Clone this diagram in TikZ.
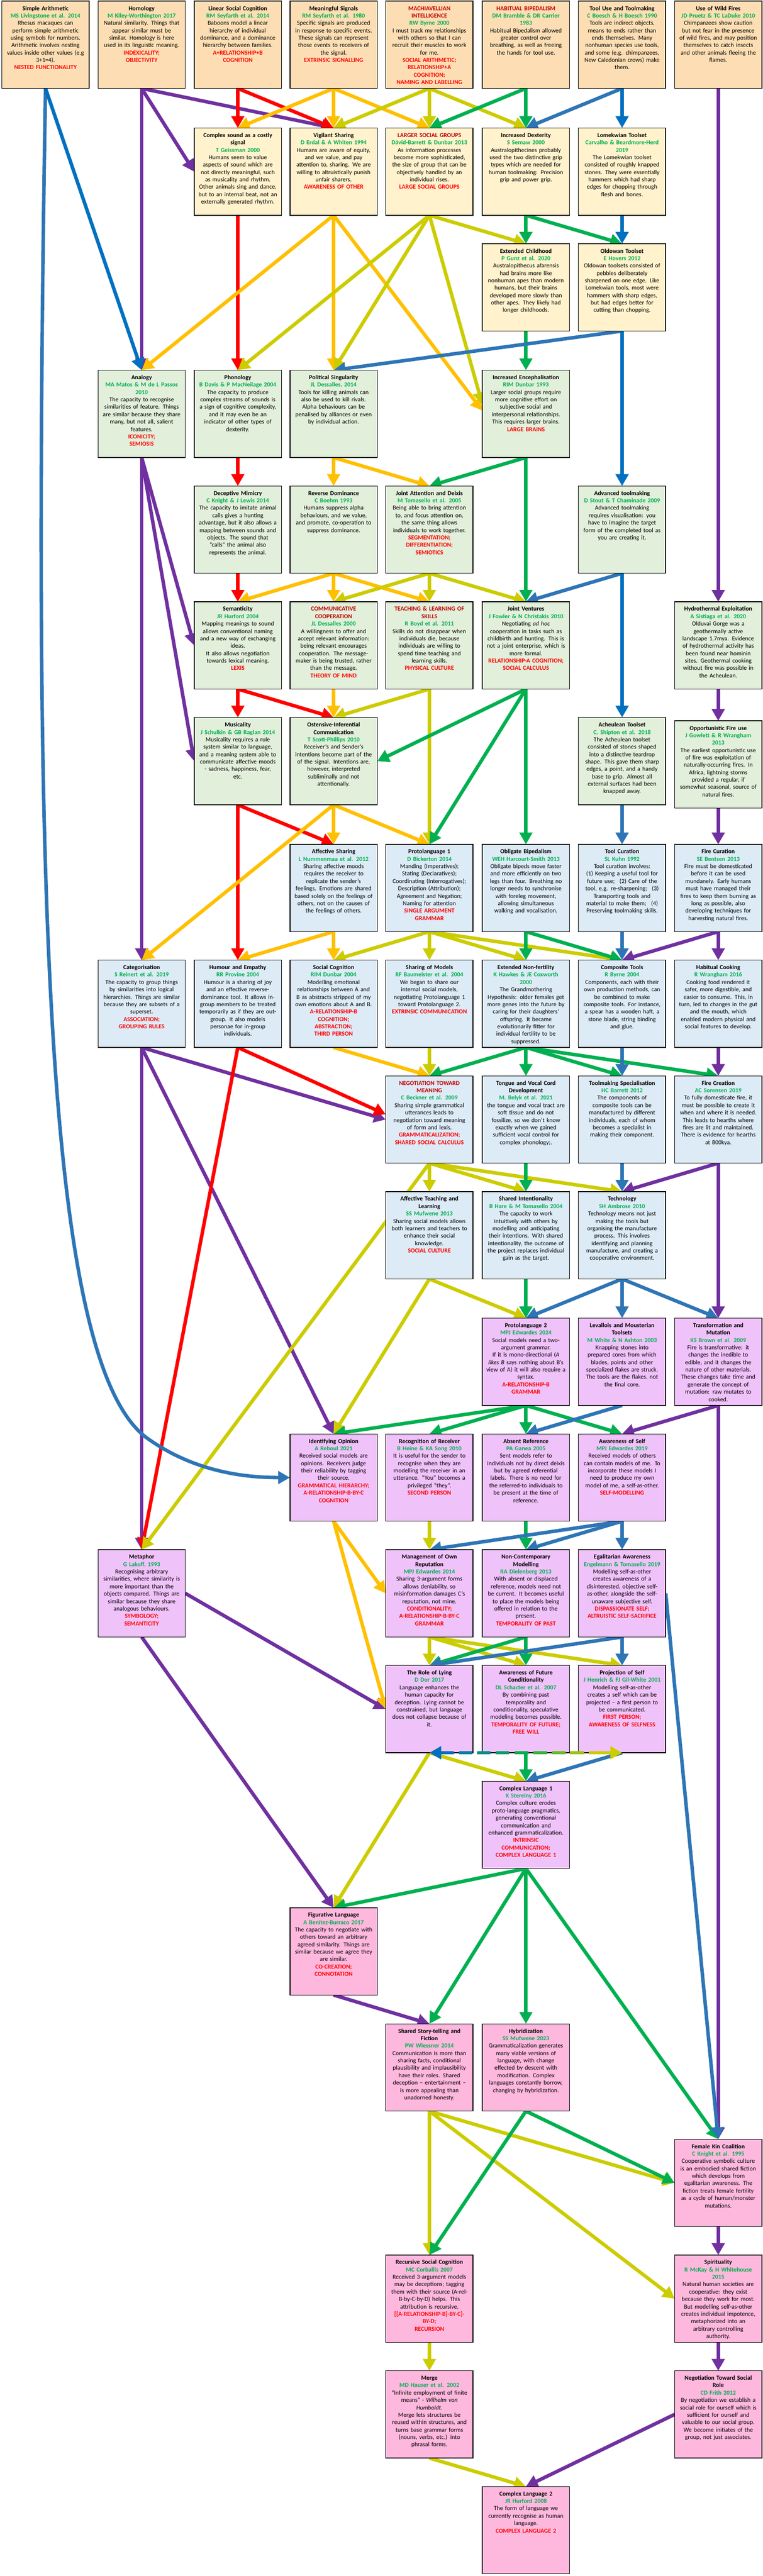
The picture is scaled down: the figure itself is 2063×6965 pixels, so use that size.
\documentclass[tikz,border=0pt]{standalone}
\usepackage{fontspec}
\setmainfont{Carlito}
\usetikzlibrary{arrows.meta,calc}
\definecolor{cPeach}{HTML}{FDDEB4}
\definecolor{cCream}{HTML}{FFF2CC}
\definecolor{cLGreen}{HTML}{E2EFDA}
\definecolor{cLBlue}{HTML}{DDEBF7}
\definecolor{cLav}{HTML}{F0C2FA}
\definecolor{cPink}{HTML}{FFB8DD}
\definecolor{cAuth}{HTML}{00B050}
\definecolor{cKey}{HTML}{FF0000}
\definecolor{cTRed}{HTML}{C00000}
\definecolor{aPur}{HTML}{7030A0}
\definecolor{aRed}{HTML}{FF0000}
\definecolor{aOra}{HTML}{FFC000}
\definecolor{aYG}{HTML}{CCCC00}
\definecolor{aGrn}{HTML}{00B050}
\definecolor{aStl}{HTML}{2E75B6}
\definecolor{aBlu}{HTML}{0070C0}
\pgfdeclarelayer{bg}
\pgfsetlayers{bg,main}
\tikzset{
 cellbox/.style={draw=black, line width=2pt, minimum width=236pt, minimum height=236pt, inner sep=0pt, outer sep=0pt},
 celltext/.style={anchor=north, inner sep=0pt, outer sep=0pt, text width=232pt, align=center, font=\fontsize{16.5pt}{20pt}\selectfont},
 conn/.style={line width=9.5pt, -{Triangle[length=32pt,width=34pt]}},
 pu/.style={conn, draw=aPur},
 rd/.style={conn, draw=aRed},
 orn/.style={conn, draw=aOra},
 ygn/.style={conn, draw=aYG},
 grn/.style={conn, draw=aGrn},
 stl/.style={conn, draw=aStl},
 blu/.style={conn, draw=aBlu},
 dashseg/.style={line width=9.5pt}
}
\newcommand{\mkbox}[5]{%
 \node[cellbox, fill=#4] (#1) at (#2+118,#3+118) {};
 \node[celltext] (#1-t) at ([yshift=-11pt]#1.north) {\strut #5};}
\newcommand{\bxT}[1]{\textbf{#1}}
\newcommand{\bxR}[1]{\textcolor{cTRed}{\textbf{#1}}}
\newcommand{\bxA}[1]{\textcolor{cAuth}{\textbf{#1}}}
\newcommand{\bxK}[1]{\textcolor{cKey}{\textbf{#1}}}
\begin{document}
\begin{tikzpicture}[x=1pt,y=-1pt]
\useasboundingbox (0,0) rectangle (2063,6965);
% ---------------- Row 1
\mkbox{sa}{5}{3}{cPeach}{\bxT{Simple Arithmetic}\\\bxA{MS Livingstone et al. 2014}\\Rhesus macaques can\\perform simple arithmetic\\using symbols for numbers.\\Arithmetic involves nesting\\values inside other values (e.g\\3+1=4).\\\bxK{NESTED FUNCTIONALITY}}
\mkbox{hom}{265}{3}{cPeach}{\bxT{Homology}\\\bxA{M Kiley-Worthington 2017}\\Natural similarity. Things that\\appear similar must be\\similar. Homology is here\\used in its linguistic meaning.\\\bxK{INDEXICALITY;\\OBJECTIVITY}}
\mkbox{lsc}{525}{3}{cPeach}{\bxT{Linear Social Cognition}\\\bxA{RM Seyfarth et al. 2014}\\Baboons model a linear\\hierarchy of individual\\dominance, and a dominance\\hierarchy between families.\\\bxK{A+RELATIONSHIP+B\\COGNITION}}
\mkbox{msig}{784}{3}{cPeach}{\bxT{Meaningful Signals}\\\bxA{RM Seyfarth et al. 1980}\\Specific signals are produced\\in response to specific events.\\These signals can represent\\those events to receivers of\\the signal.\\\bxK{EXTRINSIC SIGNALLING}}
\mkbox{mach}{1043}{3}{cPeach}{\bxR{MACHIAVELLIAN\\INTELLIGENCE}\\\bxA{RW Byrne 2000}\\I must track my relationships\\with others so that I can\\recruit their muscles to work\\for me.\\\bxK{SOCIAL ARITHMETIC;\\RELATIONSHIP+A\\COGNITION;\\NAMING AND LABELLING}}
\mkbox{habb}{1304}{3}{cPeach}{\bxR{HABITUAL BIPEDALISM}\\\bxA{DM Bramble \& DR Carrier\\1983}\\Habitual Bipedalism allowed\\greater control over\\breathing, as well as freeing\\the hands for tool use.}
\mkbox{tool}{1564}{3}{cPeach}{\bxT{Tool Use and Toolmaking}\\\bxA{C Boesch \& H Boesch 1990}\\Tools are indirect objects,\\means to ends rather than\\ends themselves. Many\\nonhuman species use tools,\\and some (e.g. chimpanzees,\\New Caledonian crows) make\\them.}
\mkbox{wild}{1824}{3}{cPeach}{\bxT{Use of Wild Fires}\\\bxA{JD Pruetz \& TC LaDuke 2010}\\Chimpanzees show caution\\but not fear in the presence\\of wild fires, and may position\\themselves to catch insects\\and other animals fleeing the\\flames.}
% ---------------- Row 2
\mkbox{csnd}{525}{346}{cCream}{\bxT{Complex sound as a costly\\signal}\\\bxA{T Geissman 2000}\\Humans seem to value\\aspects of sound which are\\not directly meaningful, such\\as musicality and rhythm.\\Other animals sing and dance,\\but to an internal beat, not an\\externally generated rhythm.}
\mkbox{vig}{784}{346}{cCream}{\bxT{Vigilant Sharing}\\\bxA{D Erdal \& A Whiten 1994}\\Humans are aware of equity,\\and we value, and pay\\attention to, sharing. We are\\willing to altruistically punish\\unfair sharers.\\\bxK{AWARENESS OF OTHER}}
\mkbox{lsg}{1043}{346}{cCream}{\bxR{LARGER SOCIAL GROUPS}\\\bxA{Dávid-Barrett \& Dunbar 2013}\\As information processes\\become more sophisticated,\\the size of group that can be\\objectively handled by an\\individual rises.\\\bxK{LARGE SOCIAL GROUPS}}
\mkbox{dex}{1304}{346}{cCream}{\bxT{Increased Dexterity}\\\bxA{S Semaw 2000}\\Australopithecines probably\\used the two distinctive grip\\types which are needed for\\human toolmaking: Precision\\grip and power grip.}
\mkbox{lom}{1564}{346}{cCream}{\bxT{Lomekwian Toolset}\\\bxA{Carvalho \& Beardmore-Herd\\2019}\\The Lomekwian toolset\\consisted of roughly knapped\\stones. They were essentially\\hammers which had sharp\\edges for chopping through\\flesh and bones.}
% ---------------- Row 3
\mkbox{ech}{1304}{659}{cCream}{\bxT{Extended Childhood}\\\bxA{P Gunz et al. 2020}\\Australopithecus afarensis\\had brains more like\\nonhuman apes than modern\\humans, but their brains\\developed more slowly than\\other apes. They likely had\\longer childhoods.}
\mkbox{old}{1564}{659}{cCream}{\bxT{Oldowan Toolset}\\\bxA{E Hovers 2012}\\Oldowan toolsets consisted of\\pebbles deliberately\\sharpened on one edge. Like\\Lomekwian tools, most were\\hammers with sharp edges,\\but had edges better for\\cutting than chopping.}
% ---------------- Row 4
\mkbox{ana}{265}{1001}{cLGreen}{\bxT{Analogy}\\\bxA{MA Matos \& M de L Passos\\2010}\\The capacity to recognise\\similarities of feature. Things\\are similar because they share\\many, but not all, salient\\features.\\\bxK{ICONICITY;\\SEMIOSIS}}
\mkbox{pho}{525}{1001}{cLGreen}{\bxT{Phonology}\\\bxA{B Davis \& P MacNeilage 2004}\\The capacity to produce\\complex streams of sounds is\\a sign of cognitive complexity,\\and it may even be an\\indicator of other types of\\dexterity.}
\mkbox{pol}{784}{1001}{cLGreen}{\bxT{Political Singularity}\\\bxA{JL Dessalles, 2014}\\Tools for killing animals can\\also be used to kill rivals.\\Alpha behaviours can be\\penalised by alliances or even\\by individual action.}
\mkbox{enc}{1304}{1001}{cLGreen}{\bxT{Increased Encephalisation}\\\bxA{RIM Dunbar 1993}\\Larger social groups require\\more cognitive effort on\\subjective social and\\interpersonal relationships.\\This requires larger brains.\\\bxK{LARGE BRAINS}}
% ---------------- Row 5
\mkbox{dec}{525}{1314}{cLGreen}{\bxT{Deceptive Mimicry}\\\bxA{C Knight \& J Lewis 2014}\\The capacity to imitate animal\\calls gives a hunting\\advantage, but it also allows a\\mapping between sounds and\\objects. The sound that\\“calls” the animal also\\represents the animal.}
\mkbox{rev}{784}{1314}{cLGreen}{\bxT{Reverse Dominance}\\\bxA{C Boehm 1993}\\Humans suppress alpha\\behaviours, and we value,\\and promote, co-operation to\\suppress dominance.}
\mkbox{jat}{1043}{1314}{cLGreen}{\bxT{Joint Attention and Deixis}\\\bxA{M Tomasello et al. 2005}\\Being able to bring attention\\to, and focus attention on,\\the same thing allows\\individuals to work together.\\\bxK{SEGMENTATION;\\DIFFERENTIATION;\\SEMIOTICS}}
\mkbox{adv}{1564}{1314}{cLGreen}{\bxT{Advanced toolmaking}\\\bxA{D Stout \& T Chaminade 2009}\\Advanced toolmaking\\requires visualisation: you\\have to imagine the target\\form of the completed tool as\\you are creating it.}
% ---------------- Row 6
\mkbox{sem}{525}{1627}{cLGreen}{\bxT{Semanticity}\\\bxA{JR Hurford 2004}\\Mapping meanings to sound\\allows conventional naming\\and a new way of exchanging\\ideas.\\It also allows negotiation\\towards lexical meaning.\\\bxK{LEXIS}}
\mkbox{comc}{784}{1627}{cLGreen}{\bxR{COMMUNICATIVE\\COOPERATION}\\\bxA{JL Dessalles 2000}\\A willingness to offer and\\accept relevant information:\\being relevant encourages\\cooperation. The message-\\maker is being trusted, rather\\than the message.\\\bxK{THEORY OF MIND}}
\mkbox{teach}{1043}{1627}{cLGreen}{\bxR{TEACHING \& LEARNING OF\\SKILLS}\\\bxA{R Boyd et al. 2011}\\Skills do not disappear when\\individuals die, because\\individuals are willing to\\spend time teaching and\\learning skills.\\\bxK{PHYSICAL CULTURE}}
\mkbox{jven}{1304}{1627}{cLGreen}{\bxT{Joint Ventures}\\\bxA{J Fowler \& N Christakis 2010}\\Negotiating \textit{ad hoc}\\cooperation in tasks such as\\childbirth and hunting. This is\\not a joint enterprise, which is\\more formal.\\\bxK{RELATIONSHIP-A COGNITION;\\SOCIAL CALCULUS}}
\mkbox{hyd}{1824}{1627}{cLGreen}{\bxT{Hydrothermal Exploitation}\\\bxA{A Sistiaga et al. 2020}\\Olduvai Gorge was a\\geothermally active\\landscape 1.7mya. Evidence\\of hydrothermal activity has\\been found near hominin\\sites. Geothermal cooking\\without fire was possible in\\the Acheulean.}
% ---------------- Row 7
\mkbox{mus}{525}{1940}{cLGreen}{\bxT{Musicality}\\\bxA{J Schulkin \& GB Raglan 2014}\\Musicality requires a rule\\system similar to language,\\and a meaning system able to\\communicate affective moods\\- sadness, happiness, fear,\\etc.}
\mkbox{ost}{784}{1940}{cLGreen}{\bxT{Ostensive-Inferential\\Communication}\\\bxA{T Scott-Phillips 2010}\\Receiver’s and Sender’s\\intentions become part of the\\of the signal. Intentions are,\\however, interpreted\\subliminally and not\\attentionally.}
\mkbox{ach}{1564}{1940}{cLGreen}{\bxT{Acheulean Toolset}\\\bxA{C. Shipton et al. 2018}\\The Acheulean toolset\\consisted of stones shaped\\into a distinctive teardrop\\shape. This gave them sharp\\edges, a point, and a handy\\base to grip. Almost all\\external surfaces had been\\knapped away.}
\mkbox{ofire}{1824}{1949}{cLGreen}{\bxT{Opportunistic Fire use}\\\bxA{J Gowlett \& R Wrangham\\2013}\\The earliest opportunistic use\\of fire was exploitation of\\naturally-occurring fires. In\\Africa, lightning storms\\provided a regular, if\\somewhat seasonal, source of\\natural fires.}
% ---------------- Row 8
\mkbox{affs}{784}{2283}{cLBlue}{\bxT{Affective Sharing}\\\bxA{L Nummenmaa et al. 2012}\\Sharing affective moods\\requires the receiver to\\replicate the sender’s\\feelings. Emotions are shared\\based solely on the feelings of\\others, not on the causes of\\the feelings of others.}
\mkbox{pl1}{1043}{2283}{cLBlue}{\bxT{Protolanguage 1}\\\bxA{D Bickerton 2014}\\Manding (Imperatives);\\Stating (Declaratives);\\Coordinating (Interrogatives);\\Description (Attribution);\\Agreement and Negation;\\Naming for attention\\\bxK{SINGLE ARGUMENT\\GRAMMAR}}
\mkbox{obip}{1304}{2283}{cLBlue}{\bxT{Obligate Bipedalism}\\\bxA{WEH Harcourt-Smith 2013}\\Obligate bipeds move faster\\and more efficiently on two\\legs than four. Breathing no\\longer needs to synchronise\\with foreleg movement,\\allowing simultaneous\\walking and vocalisation.}
\mkbox{tcur}{1564}{2283}{cLBlue}{\bxT{Tool Curation}\\\bxA{SL Kuhn 1992}\\Tool curation involves:\\(1) Keeping a useful tool for\\future use;\hspace{0.8em}(2) Care of the\\tool, e.g. re-sharpening;\hspace{0.8em}(3)\\Transporting tools and\\material to make them;\hspace{0.8em}(4)\\Preserving toolmaking skills.}
\mkbox{fcur}{1824}{2283}{cLBlue}{\bxT{Fire Curation}\\\bxA{SE Bentsen 2013}\\Fire must be domesticated\\before it can be used\\mundanely. Early humans\\must have managed their\\fires to keep them burning as\\long as possible, also\\developing techniques for\\harvesting natural fires.}
% ---------------- Row 9
\mkbox{cat}{265}{2596}{cLBlue}{\bxT{Categorisation}\\\bxA{S Reinert et al. 2019}\\The capacity to group things\\by similarities into logical\\hierarchies. Things are similar\\because they are subsets of a\\superset.\\\bxK{ASSOCIATION;\\GROUPING RULES}}
\mkbox{hum}{525}{2596}{cLBlue}{\bxT{Humour and Empathy}\\\bxA{RR Provine 2004}\\Humour is a sharing of joy\\and an effective reverse-\\dominance tool. It allows in-\\group members to be treated\\temporarily as if they are out-\\group. It also models\\personae for in-group\\individuals.}
\mkbox{soc}{784}{2596}{cLBlue}{\bxT{Social Cognition}\\\bxA{RIM Dunbar 2004}\\Modelling emotional\\relationships between A and\\B as abstracts stripped of my\\own emotions about A and B.\\\bxK{A-RELATIONSHIP-B\\COGNITION;\\ABSTRACTION;\\THIRD PERSON}}
\mkbox{shm}{1043}{2596}{cLBlue}{\bxT{Sharing of Models}\\\bxA{RF Baumeister et al. 2004}\\We began to share our\\internal social models,\\negotiating Protolanguage 1\\toward Protolanguage 2.\\\bxK{EXTRINSIC COMMUNICATION}}
\mkbox{enf}{1304}{2596}{cLBlue}{\bxT{Extended Non-fertility}\\\bxA{K Hawkes \& JE Coxworth\\2000}\\The Grandmothering\\Hypothesis: older females get\\more genes into the future by\\caring for their daughters’\\offspring. It became\\evolutionarily fitter for\\individual fertility to be\\suppressed.}
\mkbox{comp}{1564}{2596}{cLBlue}{\bxT{Composite Tools}\\\bxA{R Byrne 2004}\\Components, each with their\\own production methods, can\\be combined to make\\composite tools. For instance,\\a spear has a wooden haft, a\\stone blade, string binding\\and glue.}
\mkbox{hcook}{1824}{2596}{cLBlue}{\bxT{Habitual Cooking}\\\bxA{R Wrangham 2016}\\Cooking food rendered it\\safer, more digestible, and\\easier to consume. This, in\\turn, led to changes in the gut\\and the mouth, which\\enabled modern physical and\\social features to develop.}
% ---------------- Row 10
\mkbox{negm}{1043}{2909}{cLBlue}{\bxR{NEGOTIATION TOWARD\\MEANING}\\\bxA{C Beckner et al. 2009}\\Sharing simple grammatical\\utterances leads to\\negotiation toward meaning\\of form and lexis.\\\bxK{GRAMMATICALIZATION;\\SHARED SOCIAL CALCULUS}}
\mkbox{tong}{1304}{2909}{cLBlue}{\bxT{Tongue and Vocal Cord\\Development}\\\bxA{M. Belyk et al. 2021}\\the tongue and vocal tract are\\soft tissue and do not\\fossilize, so we don’t know\\exactly when we gained\\sufficient vocal control for\\complex phonology;.}
\mkbox{tspec}{1564}{2909}{cLBlue}{\bxT{Toolmaking Specialisation}\\\bxA{HC Barrett 2012}\\The components of\\composite tools can be\\manufactured by different\\individuals, each of whom\\becomes a specialist in\\making their component.}
\mkbox{fcre}{1824}{2909}{cLBlue}{\bxT{Fire Creation}\\\bxA{AC Sorensen 2019}\\To fully domesticate fire, it\\must be possible to create it\\when and where it is needed.\\This leads to hearths where\\fires are lit and maintained.\\There is evidence for hearths\\at 800kya.}
% ---------------- Row 11
\mkbox{atl}{1043}{3222}{cLBlue}{\bxT{Affective Teaching and\\Learning}\\\bxA{SS Mufwene 2013}\\Sharing social models allows\\both learners and teachers to\\enhance their social\\knowledge.\\\bxK{SOCIAL CULTURE}}
\mkbox{sint}{1304}{3222}{cLBlue}{\bxT{Shared Intentionality}\\\bxA{B Hare \& M Tomasello 2004}\\The capacity to work\\intuitively with others by\\modelling and anticipating\\their intentions. With shared\\intentionality, the outcome of\\the project replaces individual\\gain as the target.}
\mkbox{tech}{1564}{3222}{cLBlue}{\bxT{Technology}\\\bxA{SH Ambrose 2010}\\Technology means not just\\making the tools but\\organising the manufacture\\process. This involves\\identifying and planning\\manufacture, and creating a\\cooperative environment.}
% ---------------- Row 12
\mkbox{pl2}{1304}{3564}{cLav}{\bxT{Protolanguage 2}\\\bxA{MPJ Edwardes 2024}\\Social models need a two-\\argument grammar.\\If it is mono-directional (\textit{A}\\\textit{likes B} says nothing about B’s\\view of A) it will also require a\\syntax.\\\bxK{A-RELATIONSHIP-B\\GRAMMAR}}
\mkbox{lev}{1564}{3564}{cLav}{\bxT{Levallois and Mousterian\\Toolsets}\\\bxA{M White \& N Ashton 2003}\\Knapping stones into\\prepared cores from which\\blades, points and other\\specialized flakes are struck.\\The tools are the flakes, not\\the final core.}
\mkbox{trans}{1824}{3564}{cLav}{\bxT{Transformation and\\Mutation}\\\bxA{KS Brown et al. 2009}\\Fire is transformative: it\\changes the inedible to\\edible, and it changes the\\nature of other materials.\\These changes take time and\\generate the concept of\\mutation: raw mutates to\\cooked.}
% ---------------- Row 13
\mkbox{iop}{784}{3877}{cLav}{\bxT{Identifying Opinion}\\\bxA{A Reboul 2021}\\Received social models are\\opinions. Receivers judge\\their reliability by tagging\\their source.\\\bxK{GRAMMATICAL HIERARCHY;\\A-RELATIONSHIP-B-BY-C\\COGNITION}}
\mkbox{rrec}{1043}{3877}{cLav}{\bxT{Recognition of Receiver}\\\bxA{B Heine \& KA Song 2010}\\It is useful for the sender to\\recognise when they are\\modelling the receiver in an\\utterance. “You” becomes a\\privileged “they”.\\\bxK{SECOND PERSON}}
\mkbox{aref}{1304}{3877}{cLav}{\bxT{Absent Reference}\\\bxA{PA Ganea 2005}\\Sent models refer to\\individuals not by direct deixis\\but by agreed referential\\labels. There is no need for\\the referred-to individuals to\\be present at the time of\\reference.}
\mkbox{aself}{1564}{3877}{cLav}{\bxT{Awareness of Self}\\\bxA{MPJ Edwardes 2019}\\Received models of others\\can contain models of me. To\\incorporate these models I\\need to produce my own\\model of me, a self-as-other.\\\bxK{SELF-MODELLING}}
% ---------------- Row 14
\mkbox{meta}{265}{4190}{cLav}{\bxT{Metaphor}\\\bxA{G Lakoff, 1993}\\Recognising arbitrary\\similarities, where similarity is\\more important than the\\objects compared. Things are\\similar because they share\\analogous behaviours.\\\bxK{SYMBOLOGY;\\SEMANTICITY}}
\mkbox{mrep}{1043}{4190}{cLav}{\bxT{Management of Own\\Reputation}\\\bxA{MPJ Edwardes 2014}\\Sharing 3-argument forms\\allows deniability, so\\misinformation damages C’s\\reputation, not mine.\\\bxK{CONDITIONALITY;\\A-RELATIONSHIP-B-BY-C\\GRAMMAR}}
\mkbox{ncon}{1304}{4190}{cLav}{\bxT{Non-Contemporary\\Modelling}\\\bxA{RA Dielenberg 2013}\\With absent or displaced\\reference, models need not\\be current. It becomes useful\\to place the models being\\offered in relation to the\\present.\\\bxK{TEMPORALITY OF PAST}}
\mkbox{egal}{1564}{4190}{cLav}{\bxT{Egalitarian Awareness}\\\bxA{Engelmann \& Tomasello 2019}\\Modelling self-as-other\\creates awareness of a\\disinterested, objective self-\\as-other, alongside the self-\\unaware subjective self.\\\bxK{DISPASSIONATE SELF;\\ALTRUISTIC SELF-SACRIFICE}}
% ---------------- Row 15
\mkbox{lie}{1043}{4503}{cLav}{\bxT{The Role of Lying}\\\bxA{D Dor 2017}\\Language enhances the\\human capacity for\\deception. Lying cannot be\\constrained, but language\\does not collapse because of\\it.}
\mkbox{afut}{1304}{4503}{cLav}{\bxT{Awareness of Future\\Conditionality}\\\bxA{DL Schacter et al. 2007}\\By combining past\\temporality and\\conditionality, speculative\\modeling becomes possible.\\\bxK{TEMPORALITY OF FUTURE;\\FREE WILL}}
\mkbox{proj}{1564}{4503}{cLav}{\bxT{Projection of Self}\\\bxA{J Henrich \& FJ Gil-White 2001}\\Modelling self-as-other\\creates a self which can be\\projected – a first person to\\be communicated.\\\bxK{FIRST PERSON;\\AWARENESS OF SELFNESS}}
% ---------------- Row 16
\mkbox{cl1}{1304}{4816}{cLav}{\bxT{Complex Language 1}\\\bxA{K Sterelny 2016}\\Complex culture erodes\\proto-language pragmatics,\\generating conventional\\communication and\\enhanced grammaticalization.\\\bxK{INTRINSIC\\COMMUNICATION;\\COMPLEX LANGUAGE 1}}
% ---------------- Row 17
\mkbox{figl}{784}{5158}{cPink}{\bxT{Figurative Language}\\\bxA{A Benítez-Burraco 2017}\\The capacity to negotiate with\\others toward an arbitrary\\agreed similarity. Things are\\similar because we agree they\\are similar.\\\bxK{CO-CREATION;\\CONNOTATION}}
% ---------------- Row 18
\mkbox{story}{1043}{5472}{cPink}{\bxT{Shared Story-telling and\\Fiction}\\\bxA{PW Wiessner 2014}\\Communication is more than\\sharing facts, conditional\\plausibility and implausibility\\have their roles. Shared\\deception – entertainment –\\is more appealing than\\unadorned honesty.}
\mkbox{hyb}{1304}{5472}{cPink}{\bxT{Hybridization}\\\bxA{SS Mufwene 2023}\\Grammaticalization generates\\many viable versions of\\language, with change\\effected by descent with\\modification. Complex\\languages constantly borrow,\\changing by hybridization.}
% ---------------- Row 19
\mkbox{fkin}{1824}{5784}{cPink}{\bxT{Female Kin Coalition}\\\bxA{C Knight et al. 1995}\\Cooperative symbolic culture\\is an embodied shared fiction\\which develops from\\egalitarian awareness. The\\fiction treats female fertility\\as a cycle of human/monster\\mutations.}
% ---------------- Row 20
\mkbox{rsc}{1043}{6097}{cPink}{\bxT{Recursive Social Cognition}\\\bxA{MC Corballis 2007}\\Received 3-argument models\\may be deceptions; tagging\\them with their source (A-rel-\\B-by-C-by-D) helps. This\\attribution is recursive.\\\bxK{[[A-RELATIONSHIP-B]-BY-C]-\\BY-D;\\RECURSION}}
\mkbox{spir}{1824}{6097}{cPink}{\bxT{Spirituality}\\\bxA{R McKay \& H Whitehouse\\2015}\\Natural human societies are\\cooperative: they exist\\because they work for most.\\But modelling self-as-other\\creates individual impotence,\\metaphorized into an\\arbitrary controlling\\authority.}
% ---------------- Row 21
\mkbox{merge}{1043}{6410}{cPink}{\bxT{Merge}\\\bxA{MD Hauser et al. 2002}\\“Infinite employment of finite\\means” - \textit{Wilhelm von}\\\textit{Humboldt}.\\Merge lets structures be\\reused within structures, and\\turns base grammar forms\\(nouns, verbs, etc.) into\\phrasal forms.}
\mkbox{nsr}{1824}{6410}{cPink}{\bxT{Negotiation Toward Social\\Role}\\\bxA{CD Frith 2012}\\By negotiation we establish a\\social role for ourself which is\\sufficient for ourself and\\valuable to our social group.\\We become initiates of the\\group, not just associates.}
% ---------------- Row 22
\mkbox{cl2}{1304}{6723}{cPink}{\bxT{Complex Language 2}\\\bxA{JR Hurford 2008}\\The form of language we\\currently recognise as human\\language.\\\bxK{COMPLEX LANGUAGE 2}}
% ================= connectors (behind the boxes)
\begin{pgfonlayer}{bg}
\fill[white] (0,0) rectangle (2063,6965);
% purple
\foreach \a/\b in {hom.south/ana.north, hom.south/csnd.west, hom.south/vig.north, wild.south/hyd.north,
  ana.south/cat.north, ana.south/sem.west, ana.south/mus.west, hyd.south/ofire.north, ofire.south/fcur.north,
  fcur.south/hcook.north, fcur.south/comp.north, cat.south/meta.north, cat.south/iop.north, cat.south/negm.west,
  hcook.south/fcre.north, fcre.south/tech.north, fcre.south/trans.north, trans.south/aself.north,
  trans.south/fkin.north, meta.east/lie.west, meta.south/figl.north, figl.south/story.north,
  fkin.south/spir.north, spir.south/nsr.north, nsr.west/cl2.north}
  \draw[pu] (\a) -- (\b);
% red
\foreach \a/\b in {lsc.south/csnd.north, lsc.south/vig.north, csnd.south/pho.north, pho.south/dec.north,
  dec.south/sem.north, sem.south/mus.north, sem.south/ost.north, mus.south/hum.north, mus.south/affs.north,
  hum.south/meta.north}
  \draw[rd] (\a) -- (\b);
\draw[rd] (hum.south) -- ([yshift=14pt]negm.west);
% orange
\foreach \a/\b in {msig.south/csnd.north, msig.south/vig.north, msig.south/lsg.north, vig.south/ana.north,
  vig.south/pol.north, pol.south/rev.north, pol.south/jat.north, rev.south/sem.north, rev.south/comc.north,
  rev.south/teach.north, comc.south/ost.north, ost.south/affs.north, ost.south/cat.north, ost.south/pl1.north,
  affs.south/hum.north, affs.south/soc.north, soc.south/negm.north, iop.south/mrep.west, iop.south/lie.west}
  \draw[orn] (\a) -- (\b);
\draw[orn] (vig.south) -- ([yshift=9pt]enc.west);
% yellow-green
\foreach \a/\b in {mach.south/vig.north, mach.south/lsg.north, mach.south/dex.north, lsg.south/pho.north,
  lsg.south/pol.north, lsg.south/ech.north, jat.south/comc.north, jat.south/teach.north, jat.south/jven.north,
  teach.south/ost.north, teach.south/pl1.north, pl1.south/soc.north, pl1.south/shm.north, pl1.south/enf.north,
  pl1.south/comp.north, shm.south/negm.north, negm.south/atl.north, negm.south/sint.north, negm.south/tech.north,
  negm.south/meta.north, atl.south/pl2.north, atl.south/iop.north, rrec.south/mrep.north, mrep.south/lie.north,
  mrep.south/afut.north, mrep.south/proj.north, lie.south/cl1.north, lie.south/figl.north, story.south/rsc.north,
  story.south/fkin.west, story.south/spir.west, rsc.south/merge.north, merge.south/cl2.north}
  \draw[ygn] (\a) -- (\b);
\draw[ygn] (lsg.south) -- ([yshift=26pt]enc.west);
% green
\foreach \a/\b in {habb.south/lsg.north, habb.south/dex.north, dex.south/ech.north, dex.south/old.north,
  ech.south/enc.north, enc.south/jat.north, enc.south/jven.north, jven.south/ost.east, jven.south/pl1.north,
  jven.south/obip.north, obip.south/enf.north, obip.south/comp.north, enf.south/negm.north, enf.south/tong.north,
  enf.south/tspec.north, enf.south/fcre.north, tong.south/sint.north, sint.south/pl2.north, pl2.south/iop.north,
  pl2.south/rrec.north, pl2.south/aref.north, pl2.south/aself.north, aref.south/ncon.north, ncon.south/lie.north,
  ncon.south/afut.north, afut.south/cl1.north, cl1.south/figl.north, cl1.south/story.north, cl1.south/hyb.north,
  cl1.south/fkin.north, hyb.south/rsc.north, hyb.south/fkin.west}
  \draw[grn] (\a) -- (\b);
% steel blue
\foreach \a/\b in {tool.south/dex.north, old.south/pol.north, adv.south/jven.north, ach.south/tcur.north,
  tcur.south/comp.north, comp.south/tspec.north, tspec.south/tech.north, tech.south/pl2.north,
  tech.south/lev.north, tech.south/trans.north, lev.south/aref.north, aself.south/mrep.north,
  aself.south/ncon.north, aself.south/egal.north, egal.south/lie.north, egal.south/proj.north,
  egal.east/fkin.north, proj.south/cl1.north}
  \draw[stl] (\a) -- (\b);
\coordinate (sabend) at (400,3890);
\draw[stl] (sa.south) .. controls (85,2500) and (130,3700) .. (sabend) .. controls (520,3975) and (650,3995) .. (iop.west);
% bright blue
\foreach \a/\b in {sa.south/ana.north, tool.south/lom.north, lom.south/old.north, old.south/adv.north, adv.south/ach.north}
  \draw[blu] (\a) -- (\b);
\end{pgfonlayer}
% ================= dashed two-way gradient arrow
\foreach \s/\e/\c in {0.0726/0.127/aBlu, 0.153/0.223/{aBlu!75!aGrn}, 0.248/0.318/{aBlu!50!aGrn},
  0.344/0.414/{aBlu!25!aGrn}, 0.443/0.516/aGrn, 0.539/0.611/{aGrn!75!aYG}, 0.634/0.707/{aGrn!50!aYG},
  0.730/0.803/{aGrn!25!aYG}, 0.828/0.88/aYG}
  \draw[dashseg, draw=\c] ($(lie.south)!\s!(proj.south)$) -- ($(lie.south)!\e!(proj.south)$);
\draw[conn, draw=aBlu] ($(lie.south)!0.075!(proj.south)$) -- (lie.south);
\draw[conn, draw=aYG] ($(lie.south)!0.87!(proj.south)$) -- (proj.south);
\end{tikzpicture}
\end{document}
